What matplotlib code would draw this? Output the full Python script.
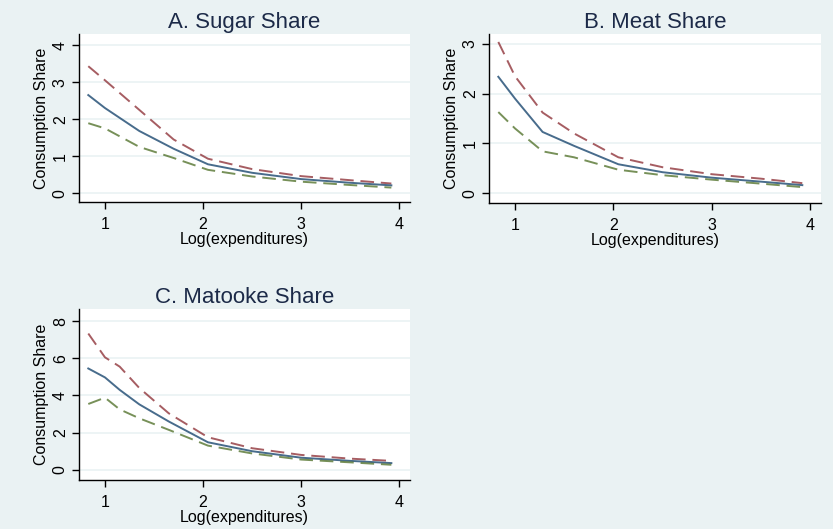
import matplotlib.pyplot as plt

plt.rcParams['font.family'] = ['Liberation Sans', 'DejaVu Sans']

# Panel A: sugar
sugar_x = [0.83, 1.0, 1.35, 1.7, 2.05, 2.5, 3.0, 3.5, 3.92]
sugar_hi = [3.43, 3.05, 2.25, 1.45, 0.93, 0.65, 0.46, 0.35, 0.26]
sugar_mid = [2.65, 2.30, 1.68, 1.20, 0.78, 0.55, 0.38, 0.28, 0.21]
sugar_lo = [1.89, 1.75, 1.25, 0.95, 0.63, 0.45, 0.31, 0.22, 0.15]

# Panel B: meat
meat_x = [0.83, 1.0, 1.28, 1.6, 2.05, 2.5, 3.0, 3.5, 3.92]
meat_hi = [3.04, 2.35, 1.62, 1.20, 0.72, 0.52, 0.38, 0.29, 0.20]
meat_mid = [2.34, 1.90, 1.23, 0.95, 0.58, 0.42, 0.31, 0.23, 0.16]
meat_lo = [1.63, 1.30, 0.84, 0.72, 0.47, 0.36, 0.27, 0.19, 0.12]

# Panel C: matooke
mat_x = [0.83, 1.0, 1.15, 1.35, 1.65, 2.05, 2.5, 3.0, 3.5, 3.92]
mat_hi = [7.33, 6.05, 5.55, 4.40, 3.04, 1.75, 1.16, 0.80, 0.60, 0.48]
mat_mid = [5.45, 4.97, 4.30, 3.52, 2.60, 1.48, 1.00, 0.65, 0.48, 0.36]
mat_lo = [3.54, 3.88, 3.25, 2.77, 2.15, 1.30, 0.88, 0.55, 0.40, 0.27]

x_ticks = [1, 2, 3, 4]

BG = '#eaf2f3'
NAVY = '#1a476f'
MAROON = '#90353b'
GREEN = '#55752f'

fig = plt.figure(figsize=(8.33, 5.29), dpi=100, facecolor=BG)

panels = [
    ('A. Sugar Share', [0.0948, 0.6181, 0.3974, 0.3176], sugar_x, sugar_hi, sugar_mid, sugar_lo,
     [0, 1, 2, 3, 4], (-0.24, 4.3)),
    ('B. Meat Share', [0.587, 0.6162, 0.3986, 0.3195], meat_x, meat_hi, meat_mid, meat_lo,
     [0, 1, 2, 3], (-0.2, 3.2)),
    ('C. Matooke Share', [0.0948, 0.0926, 0.3974, 0.3233], mat_x, mat_hi, mat_mid, mat_lo,
     [0, 2, 4, 6, 8], (-0.55, 8.65)),
]

for title, pos, x, hi, mid, lo, yt, ylim in panels:
    ax = fig.add_axes(pos)
    ax.set_facecolor('white')
    for y in yt:
        ax.axhline(y, color=BG, lw=1.2, zorder=0)
    ax.plot(x, hi, color=MAROON, lw=1.4, ls=(0, (7, 3.5)), alpha=0.8)
    ax.plot(x, mid, color=NAVY, lw=1.4, alpha=0.8)
    ax.plot(x, lo, color=GREEN, lw=1.4, ls=(0, (7, 3.5)), alpha=0.8)

    ax.set_xlim(0.735, 4.11)
    ax.set_ylim(*ylim)
    ax.set_xticks(x_ticks)
    ax.set_yticks(yt)
    for s in ['top', 'right']:
        ax.spines[s].set_visible(False)
    for s in ['left', 'bottom']:
        ax.spines[s].set_linewidth(1.0)
    ax.tick_params(direction='out', length=5, width=1, labelsize=11.5, colors='black', pad=3)
    ax.tick_params(axis='x', pad=6)
    plt.setp(ax.get_yticklabels(), rotation=90, va='center')
    ax.set_xlabel('Log(expenditures)', fontsize=11.5, labelpad=0)
    ax.set_ylabel('Consumption Share', fontsize=11.5, labelpad=3)
    ax.set_title(title, fontsize=16, color='#1c2a48', pad=4)

fig.savefig('out.png', dpi=100, facecolor=BG)
